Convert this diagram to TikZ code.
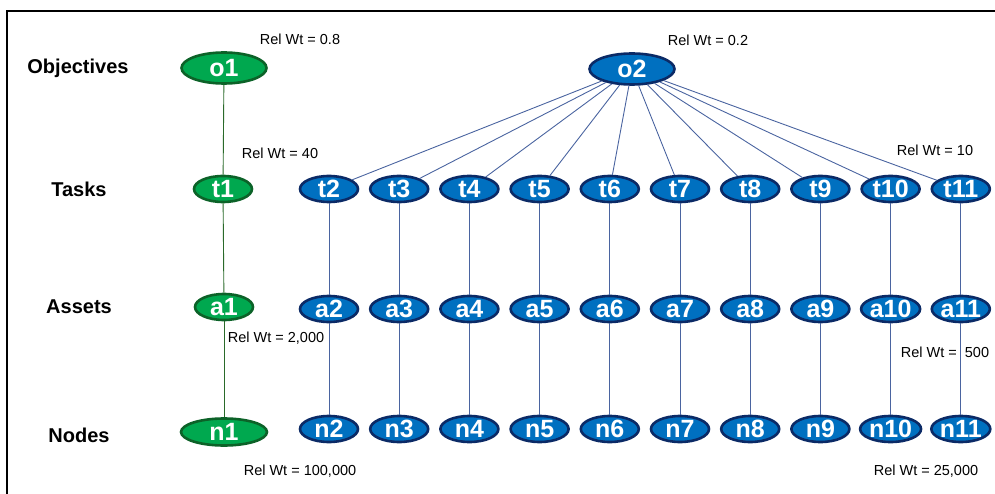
\documentclass[tikz,border=0pt]{standalone}
\usepackage{fontspec}
\setmainfont{Liberation Sans}
\usetikzlibrary{shapes.geometric}

\definecolor{gfill}{HTML}{00A84F}
\definecolor{gedge}{HTML}{0C6228}
\definecolor{bfill}{HTML}{0070C0}
\definecolor{bedge}{HTML}{0B2A66}
\definecolor{bline}{HTML}{4A64A0}
\definecolor{gline}{HTML}{2A6A2A}

\begin{document}
\begin{tikzpicture}[x=1pt,y=-1pt,
  oval/.style={ellipse, inner sep=0pt, line width=2.6pt, text=white,
    font=\fontsize{25}{25}\selectfont\bfseries,
    minimum width=58pt, minimum height=26pt},
  gnode/.style={oval, draw=gedge, fill=gfill},
  bnode/.style={oval, draw=bedge, fill=bfill},
  bigoval/.style={minimum width=85pt, minimum height=31pt},
  rowlabel/.style={font=\fontsize{20}{20}\selectfont\bfseries},
  wt/.style={font=\fontsize{14.5}{15}\selectfont, inner sep=0pt},
  glink/.style={draw=gline, line width=0.9pt},
  blink/.style={draw=bline, line width=0.9pt}]

\useasboundingbox (0,0) rectangle (995,494);

% frame
\draw[line width=2.3pt] (7,494) -- (7,11) -- (995,11);

% row titles
\node[rowlabel] (lobj) at (78,68) {Objectives};
\node[rowlabel] (ltask) at (79,189) {Tasks};
\node[rowlabel] (lasset) at (79,307) {Assets};
\node[rowlabel] (lnode) at (79,435) {Nodes};

% green branch
\node[gnode, bigoval] (o1) at (224,68) {o1};
\node[gnode] (t1) at (223,189) {t1};
\node[gnode] (a1) at (224,307) {a1};
\node[gnode, minimum width=86pt, minimum height=27pt] (n1) at (224,432) {n1};
\draw[glink] (o1) -- (t1);
\draw[glink] (t1) -- (a1);
\draw[glink] (a1) -- (n1);

% blue branch
\node[bnode, bigoval] (o2) at (632,69) {o2};
\foreach \i in {2,...,11} {
  \pgfmathsetmacro\xx{329+70.2*(\i-2)}
  \node[bnode] (t\i) at (\xx,189) {t\i};
  \node[bnode] (a\i) at (\xx,309) {a\i};
  \node[bnode] (n\i) at (\xx,429) {n\i};
}
\foreach \i in {2,...,11} {
  \draw[blink] (o2) -- (t\i);
  \draw[blink] (t\i) -- (a\i);
  \draw[blink] (a\i) -- (n\i);
}

% relative weights
\node[wt] (w1) at (300,39) {Rel Wt = 0.8};
\node[wt] (w2) at (708,40) {Rel Wt = 0.2};
\node[wt] (w3) at (280,153) {Rel Wt = 40};
\node[wt] (w4) at (935,150) {Rel Wt = 10};
\node[wt] (w5) at (276,338) {Rel Wt = 2,000};
\node[wt] (w6) at (945,352) {Rel Wt =\ \ 500};
\node[wt] (w7) at (300,471) {Rel Wt = 100,000};
\node[wt] (w8) at (926,471) {Rel Wt = 25,000};

\end{tikzpicture}
\end{document}
